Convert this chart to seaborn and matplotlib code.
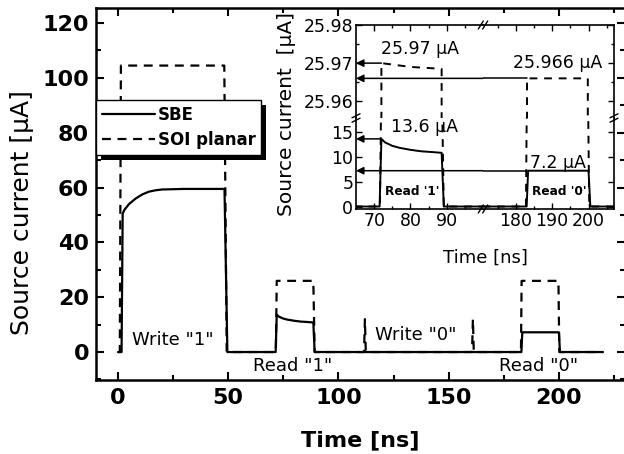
import matplotlib
matplotlib.use("Agg")
import matplotlib.pyplot as plt
from matplotlib.ticker import MultipleLocator, FixedLocator
from matplotlib.patches import Rectangle
from matplotlib.transforms import IdentityTransform
from matplotlib.lines import Line2D
import seaborn as sns

# SBE source current [uA] vs time [ns] (solid)
sbe_time = [0, 1.6, 2.1, 3, 5, 8, 11, 14, 17, 20, 25, 30, 48.3, 49.6, 71.5, 72.0, 73, 75, 77, 80, 83, 86, 88.6, 89.2, 183.0, 183.4, 200.0, 200.5, 220]
sbe_current = [0, 0, 50.5, 52, 54, 56, 57.5, 58.5, 59, 59.3, 59.4, 59.5, 59.5, 0, 0, 13.6, 12.9, 12.2, 11.8, 11.4, 11.1, 10.95, 10.8, 0, 0, 7.2, 7.2, 0, 0]

# SOI planar source current [uA] vs time [ns] (dashed)
soi_time = [0, 0.8, 1.3, 48.2, 49.3, 71.6, 72.0, 80, 88.6, 89.2, 111.6, 112.0, 112.4, 160.6, 161.0, 161.4, 182.8, 183.1, 199.8, 200.2, 220]
soi_current = [0, 0, 104.5, 104.5, 0, 0, 25.970, 25.969, 25.9685, 0, 0, 12, 0, 0, 12, 0, 0, 25.966, 25.966, 0, 0]

# inset read-out levels: (start time, level)
read_low = [(72.0, 13.6), (183.0, 7.2)]
read_high = [(72.0, 25.970), (183.0, 25.966)]

main_xticks = [0, 50, 100, 150, 200]
main_yticks = [0, 20, 40, 60, 80, 100, 120]
inset_left_xticks = [70, 80, 90]
inset_right_xticks = [180, 190, 200]
inset_low_yticks = [0, 5, 10, 15]
inset_high_yticks = [25.96, 25.97, 25.98]

sns.set_theme(style="ticks")
plt.rcParams["font.family"] = ["DejaVu Sans"]
plt.rcParams["axes.unicode_minus"] = False
plt.rcParams["text.color"] = "black"
plt.rcParams["axes.labelcolor"] = "black"
plt.rcParams["xtick.color"] = "black"
plt.rcParams["ytick.color"] = "black"

W, H = 624, 454
fig = plt.figure(figsize=(W / 100, H / 100), dpi=100)


def frac(x0, y0, x1, y1):
    # pixel box (top-left origin) -> figure fraction rect
    return [x0 / W, 1 - y1 / H, (x1 - x0) / W, (y1 - y0) / H]


ax = fig.add_axes(frac(96, 8, 625, 380))

sns.lineplot(x=sbe_time, y=sbe_current, ax=ax, color="black", lw=1.6,
             sort=False, estimator=None, label="SBE")
sns.lineplot(x=soi_time, y=soi_current, ax=ax, color="black", lw=1.6,
             linestyle=(0, (4, 3)), sort=False, estimator=None, label="SOI planar")

ax.set_xlim(-10, 230)
ax.set_ylim(-10.2, 125.5)
ax.set_xticks(main_xticks, [str(t) for t in main_xticks], fontweight="bold")
ax.set_yticks(main_yticks, [str(t) for t in main_yticks], fontweight="bold")
ax.xaxis.set_minor_locator(MultipleLocator(25))
ax.yaxis.set_minor_locator(MultipleLocator(10))
ax.tick_params(which="both", direction="in", top=True, right=True, width=1.5,
               labelsize=16, colors="black")
ax.tick_params(axis="x", pad=6)
ax.tick_params(axis="y", pad=5)
ax.tick_params(which="major", length=6)
ax.tick_params(which="minor", length=3.5)
for sp in ax.spines.values():
    sp.set_linewidth(1.8)
    sp.set_color("black")

ax.set_xlabel("Time [ns]", fontsize=16, fontweight="bold")
ax.xaxis.set_label_coords(0.5, -0.135)
ax.set_ylabel("Source current [μA]", fontsize=18)
ax.yaxis.set_label_coords(-0.118, 0.45)

ax.text(25, 4.4, 'Write "1"', ha="center", va="center", fontsize=13)
ax.text(79, -5, 'Read "1"', ha="center", va="center", fontsize=13)
ax.text(135, 6.2, 'Write "0"', ha="center", va="center", fontsize=13)
ax.text(191, -5, 'Read "0"', ha="center", va="center", fontsize=13)

leg = ax.legend(loc="upper left", bbox_to_anchor=(0, (380 - 100) / 372), borderaxespad=0,
                frameon=True, fancybox=False, edgecolor="black", framealpha=1,
                prop={"weight": "bold", "size": 12}, handlelength=3.2,
                handletextpad=0.15, borderpad=0.35, labelspacing=0.45)
leg.get_frame().set_linewidth(1.0)

# inset: broken axes made of four panels
xl, xb, xr = 356, 483, 614
yt, yb_, ybot = 25, 118, 209
ax_ul = fig.add_axes(frac(xl, yt, xb, yb_))
ax_ur = fig.add_axes(frac(xb, yt, xr, yb_))
ax_ll = fig.add_axes(frac(xl, yb_, xb, ybot))
ax_lr = fig.add_axes(frac(xb, yb_, xr, ybot))
left_lim, right_lim = (65, 100), (171, 207)
low_lim, high_lim = (-0.5, 17.8), (25.9556, 25.98)

for a, xlim, ylim in [(ax_ul, left_lim, high_lim), (ax_ur, right_lim, high_lim),
                      (ax_ll, left_lim, low_lim), (ax_lr, right_lim, low_lim)]:
    a.set_facecolor("white")
    sns.lineplot(x=sbe_time, y=sbe_current, ax=a, color="black", lw=1.4,
                 sort=False, estimator=None, legend=False)
    sns.lineplot(x=soi_time, y=soi_current, ax=a, color="black", lw=1.4,
                 linestyle=(0, (4, 3.5)), sort=False, estimator=None, legend=False)
    a.set_xlim(*xlim)
    a.set_ylim(*ylim)
    a.set_xlabel("")
    a.set_ylabel("")
    for sp in a.spines.values():
        sp.set_linewidth(1.2)
        sp.set_color("black")
    a.tick_params(which="both", direction="in", width=1.0, labelsize=12.5,
                  colors="black", pad=2)
    a.tick_params(which="major", length=4)
    a.tick_params(which="minor", length=2.5)

for a in (ax_ul, ax_ll):
    a.xaxis.set_major_locator(FixedLocator(inset_left_xticks))
    a.xaxis.set_minor_locator(FixedLocator([75, 85, 95]))
    a.spines["right"].set_visible(False)
    a.tick_params(axis="y", which="both", left=True, right=False)
for a in (ax_ur, ax_lr):
    a.xaxis.set_major_locator(FixedLocator(inset_right_xticks))
    a.xaxis.set_minor_locator(FixedLocator([175, 185, 195, 205]))
    a.spines["left"].set_visible(False)
    a.tick_params(axis="y", which="both", left=False, right=True, labelleft=False)
for a in (ax_ul, ax_ur):
    a.set_yticks(inset_high_yticks, [f"{v:.2f}" for v in inset_high_yticks])
    a.yaxis.set_minor_locator(FixedLocator([25.965, 25.975]))
    a.spines["bottom"].set_visible(False)
    a.tick_params(axis="x", which="both", bottom=False, top=True, labelbottom=False)
for a in (ax_ll, ax_lr):
    a.set_yticks(inset_low_yticks, [str(v) for v in inset_low_yticks])
    a.spines["top"].set_visible(False)
    a.tick_params(axis="x", which="both", bottom=True, top=False)
ax_ur.tick_params(axis="y", labelright=False)
ax_lr.tick_params(axis="y", labelright=False)

# read-out arrows pointing to the left axis
arrow_kw = dict(arrowstyle="-|>", color="black", lw=1.1, mutation_scale=11,
                shrinkA=0, shrinkB=0)
for pairs, a_left, a_right in [(read_low, ax_ll, ax_lr), (read_high, ax_ul, ax_ur)]:
    for t0, lvl in pairs:
        if t0 <= left_lim[1]:
            a_left.annotate("", xy=(left_lim[0], lvl), xytext=(t0, lvl), arrowprops=arrow_kw)
        else:
            a_right.plot([right_lim[0], t0], [lvl, lvl], color="black", lw=1.1)
            a_left.annotate("", xy=(left_lim[0], lvl), xytext=(left_lim[1], lvl),
                            arrowprops=arrow_kw, annotation_clip=False)

ax_ul.text(82.6, 25.9736, "25.97 μA", ha="center", va="center", fontsize=12.5)
ax_ur.text(191.5, 25.9701, "25.966 μA", ha="center", va="center", fontsize=12.5)
ax_ll.text(84, 16.0, "13.6 μA", ha="center", va="center", fontsize=12.5)
ax_lr.text(191.5, 8.8, "7.2 μA", ha="center", va="center", fontsize=12.5)
ax_ll.text(80.4, 3, "Read '1'", ha="center", va="center", fontsize=8.7, fontweight="bold")
ax_lr.text(192, 3, "Read '0'", ha="center", va="center", fontsize=8.7, fontweight="bold")

fig.text(287 / W, 1 - 114 / H, "Source current  [μA]", rotation=90, ha="center",
         va="center", fontsize=14.5)
fig.text(485 / W, 1 - 258 / H, "Time [ns]", ha="center", va="center", fontsize=13)


def break_mark(px, py, horizontal):
    # two short slanted strokes over a spine, in pixel coordinates
    for d in (-2.2, 2.2):
        if horizontal:
            xs = [px + d - 2.5, px + d + 2.5]
            ys = [py + 4, py - 4]
        else:
            xs = [px - 4, px + 4]
            ys = [py + d + 2, py + d - 2]
        fig.add_artist(Line2D([x / W for x in xs], [1 - y / H for y in ys],
                              transform=fig.transFigure, color="black", lw=1.0))


break_mark(xb, yt, True)
break_mark(xb, ybot, True)
break_mark(xl, yb_, False)
break_mark(xr, yb_, False)

# legend shadow
fig.canvas.draw()
bb = leg.get_window_extent()
ax.add_patch(Rectangle((bb.x0 + 5, bb.y0 - 5), bb.width, bb.height,
                       transform=IdentityTransform(), facecolor="black",
                       edgecolor="none", zorder=4.9, clip_on=False))

fig.savefig("out.png", dpi=100)
